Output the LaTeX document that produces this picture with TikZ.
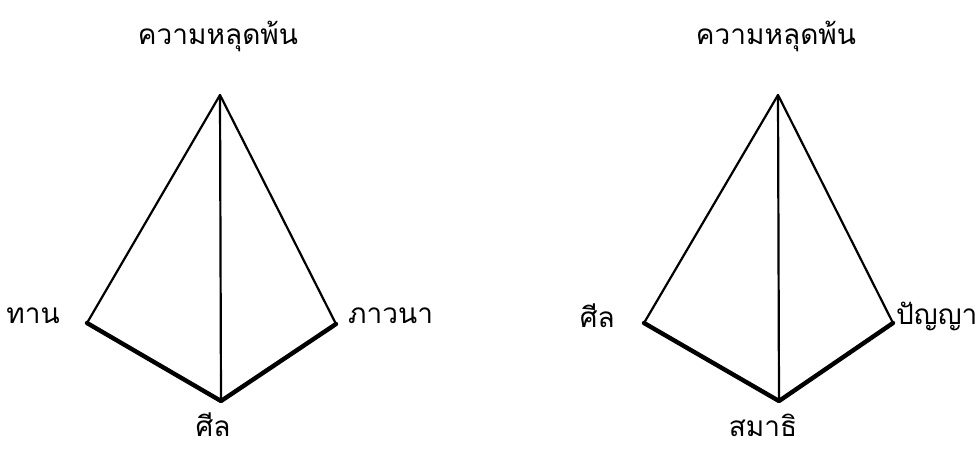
\documentclass[tikz,border=0pt]{standalone}
\usepackage{fontspec}
\newfontfamily\thaifont[Script=Thai]{Loma}
\begin{document}
\begin{tikzpicture}[x=1pt,y=-1pt,
  thin edge/.style={line width=2.2pt,line cap=round,line join=round},
  thick edge/.style={line width=4.4pt,line cap=round,line join=round},
  lbl/.style={font=\thaifont\fontsize{28}{32}\selectfont,inner sep=0pt}]
\useasboundingbox (0,0) rectangle (976,448);
% left diagram
\coordinate (a1) at (220,95);
\coordinate (l1) at (87,323);
\coordinate (r1) at (336,324);
\coordinate (b1) at (221,401);
\draw[thin edge] (l1) -- (a1) -- (r1);
\draw[thin edge] (a1) -- (b1);
\draw[thick edge] (l1) -- (b1) -- (r1);
\node[lbl] (t1) at (218,36) {ความหลุดพ้น};
\node[lbl,anchor=east] (n1) at (60,316) {ทาน};
\node[lbl,anchor=west] (n2) at (348,316) {ภาวนา};
\node[lbl,anchor=base] (n3) at (213,436) {ศีล};
% right diagram
\coordinate (a2) at (778,95);
\coordinate (l2) at (644,323);
\coordinate (r2) at (893,323);
\coordinate (b2) at (779,401);
\draw[thin edge] (l2) -- (a2) -- (r2);
\draw[thin edge] (a2) -- (b2);
\draw[thick edge] (l2) -- (b2) -- (r2);
\node[lbl] (t2) at (776,36) {ความหลุดพ้น};
\node[lbl,anchor=east] (m1) at (615,316) {ศีล};
\node[lbl,anchor=west] (m2) at (896,316) {ปัญญา};
\node[lbl,anchor=base] (m3) at (763,436) {สมาธิ};
\end{tikzpicture}
\end{document}
